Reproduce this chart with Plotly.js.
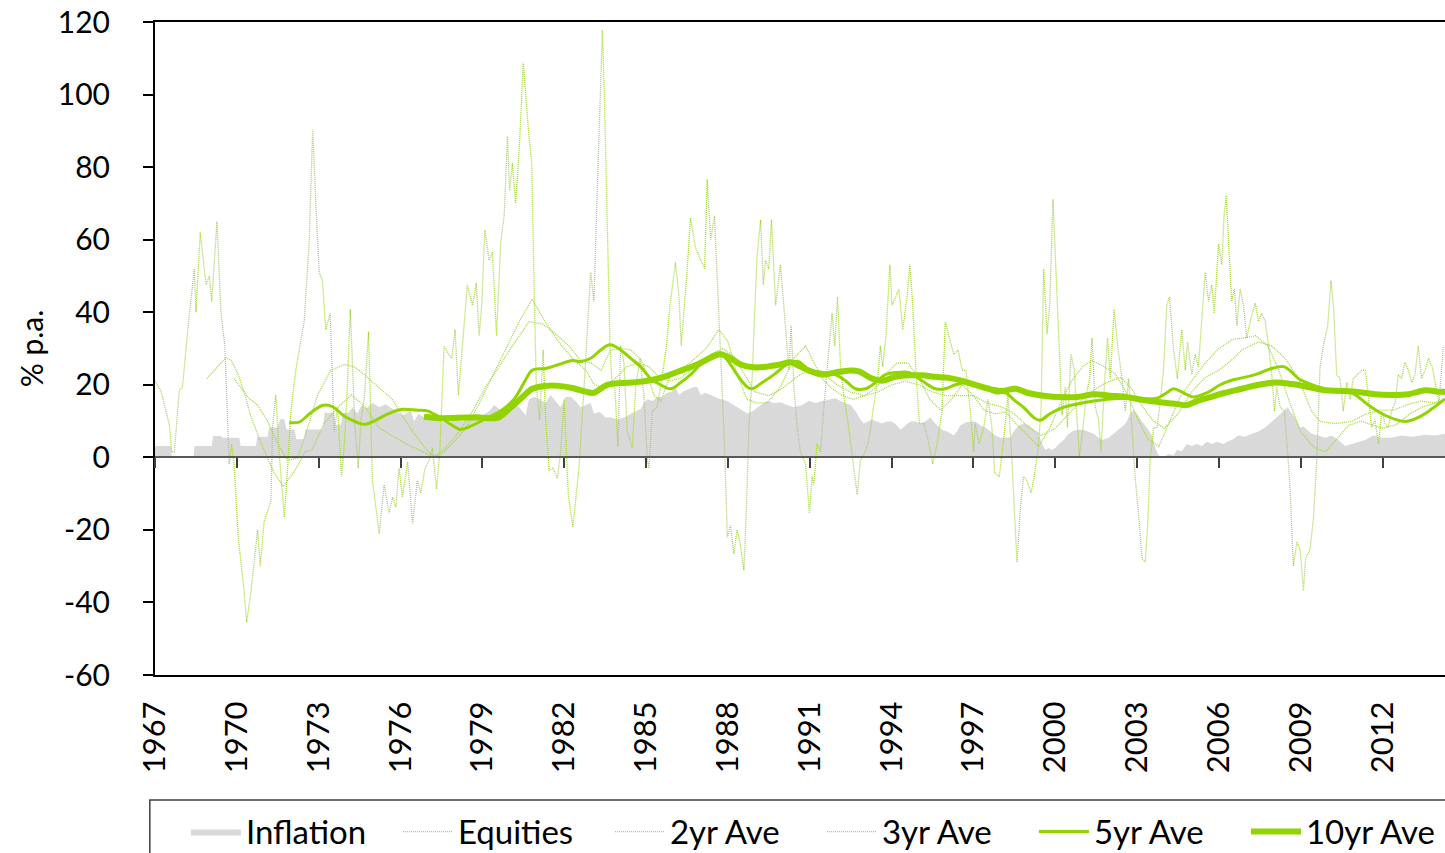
<!DOCTYPE html>
<html>
<head>
<meta charset="utf-8">
<script src="https://cdn.plot.ly/plotly-3.0.1.min.js"></script>
<style>html,body{margin:0;padding:0;background:#fff;}#chart{width:1445px;height:853px;}</style>
</head>
<body>
<div id="chart"></div>
<script>
// ---------- DATA ----------
const tickYears = [1967,1970,1973,1976,1979,1982,1985,1988,1991,1994,1997,2000,2003,2006,2009,2012];
const tickLabels = tickYears.map(String);
const yTickVals = [-60,-40,-20,0,20,40,60,80,100,120];
const yTickLabels = ['-60','-40','-20','0','20','40','60','80','100','120'];

const inflationYears = [1967.00,1967.58,1967.62,1968.41,1968.45,1969.08,1969.13,1969.42,1969.47,1970.09,1970.14,1970.70,1970.75,1971.13,1971.18,1971.50,1971.58,1971.74,1971.82,1972.12,1972.18,1972.47,1972.52,1973.15,1973.22,1973.56,1973.62,1973.82,1973.88,1974.10,1974.24,1974.42,1974.57,1974.75,1974.97,1975.22,1975.45,1975.71,1975.90,1976.07,1976.38,1976.50,1976.65,1976.87,1977.05,1977.29,1977.55,1977.78,1978.00,1978.27,1978.50,1978.76,1979.00,1979.25,1979.43,1979.65,1979.86,1980.10,1980.35,1980.59,1980.71,1980.90,1981.10,1981.32,1981.50,1981.68,1981.87,1982.05,1982.24,1982.42,1982.60,1982.97,1983.09,1983.30,1983.52,1983.75,1983.95,1984.20,1984.44,1984.62,1984.80,1984.92,1985.05,1985.23,1985.41,1985.60,1985.78,1985.93,1986.08,1986.21,1986.39,1986.57,1986.76,1986.88,1987.00,1987.18,1987.37,1987.55,1987.73,1987.98,1988.22,1988.47,1988.71,1988.95,1989.20,1989.44,1989.69,1989.93,1990.17,1990.42,1990.72,1990.97,1991.22,1991.46,1991.70,1991.94,1992.13,1992.31,1992.50,1992.68,1992.86,1992.98,1993.12,1993.29,1993.47,1993.65,1993.83,1994.02,1994.20,1994.33,1994.51,1994.69,1994.88,1995.06,1995.24,1995.42,1995.61,1995.85,1996.04,1996.16,1996.28,1996.40,1996.52,1996.71,1996.89,1997.07,1997.26,1997.44,1997.62,1997.81,1997.99,1998.17,1998.36,1998.48,1998.66,1998.84,1999.03,1999.21,1999.39,1999.52,1999.64,1999.76,1999.88,2000.00,2000.13,2000.31,2000.49,2000.67,2000.86,2001.04,2001.22,2001.41,2001.59,2001.72,2001.96,2002.14,2002.32,2002.51,2002.63,2002.75,2002.87,2003.00,2003.18,2003.36,2003.55,2003.67,2003.79,2003.97,2004.16,2004.34,2004.46,2004.64,2004.83,2005.01,2005.19,2005.38,2005.56,2005.74,2005.93,2006.17,2006.30,2006.47,2006.72,2006.96,2007.21,2007.45,2007.70,2007.94,2008.18,2008.37,2008.53,2008.61,2008.73,2008.86,2008.98,2009.10,2009.22,2009.40,2009.65,2009.89,2010.14,2010.38,2010.63,2010.87,2011.11,2011.36,2011.66,2011.97,2012.33,2012.70,2013.07,2013.56,2013.92,2014.29];
const inflationValues = [3.1,3.1,0,0,3.1,3.1,5.9,5.9,5.4,5.4,3.1,3.1,5.7,5.7,8.2,8.2,10.5,10.5,7.7,7.7,5,5,7.7,7.7,12.3,12.3,9,9,12.3,12.3,13.8,12.1,14.4,13.5,15,13.8,14.6,13.3,12.2,11.6,12.7,9.9,12,11,12,10.4,9.8,9.3,10.8,9.9,11,12.1,11.6,12.7,14.4,13.2,13.8,15,13.8,11.6,16,16.6,16,15,17.2,15.5,13.8,16.6,16.6,15.5,13.8,15,12.1,12.5,11,11,10.4,11,12.1,12.7,13.3,15,16,15.5,16.6,16.6,17.8,18.1,19.4,17.2,18.3,18.9,19.4,19.4,17.2,17.8,17.2,16.6,16,15.5,14.4,13.3,12.1,12.9,14.4,15.5,15,15.2,14.4,13.8,14.4,15.5,15,15.5,16,16.3,15.5,15,14.4,12.7,10.4,9.3,9.9,10.4,9.9,9.3,9.9,9.9,8.8,7.6,8.8,9.9,9.9,9.3,9.9,11,9.3,7.6,7.1,6.5,6,7.1,8.8,9.6,9.9,9.9,8.8,8.2,7.1,6,5.4,5.4,5.5,7.1,8.8,9.3,8.8,7.6,6.5,3.7,2,2.6,2,2.6,3.7,4.8,6.5,7.3,7.6,7.6,7.1,6.5,5.4,4.8,5.4,6.5,7.6,8.8,9.9,12.1,12.9,12.1,9.9,8.2,6,2.6,0.5,0.1,0.9,0.5,2,1.7,3.7,3.1,3.7,3.1,4.3,3.7,4.3,3.7,4.2,4.8,6,5.7,6.5,7.1,8.2,9.9,11.6,12.7,13.8,12.7,11.6,9.9,8.2,8.5,7.6,6.5,6,5.4,6,4.8,3.1,3.7,4.3,4.8,6,5.4,5.4,6,5.7,6.2,6,6.5];

const equityYears = [1967.00,1967.22,1967.53,1967.61,1967.71,1967.89,1968.01,1968.20,1968.44,1968.50,1968.66,1968.87,1968.99,1969.08,1969.27,1969.42,1969.56,1969.72,1969.81,1969.91,1970.05,1970.25,1970.36,1970.52,1970.76,1970.86,1971.00,1971.25,1971.31,1971.43,1971.55,1971.74,1971.86,1971.98,1972.16,1972.35,1972.47,1972.65,1972.78,1972.90,1973.02,1973.14,1973.26,1973.42,1973.51,1973.57,1973.69,1973.84,1973.94,1974.03,1974.16,1974.24,1974.33,1974.45,1974.55,1974.67,1974.83,1974.97,1975.22,1975.40,1975.58,1975.71,1975.83,1975.95,1976.07,1976.26,1976.44,1976.62,1976.74,1976.90,1977.05,1977.17,1977.32,1977.44,1977.60,1977.76,1977.88,1978.00,1978.12,1978.27,1978.45,1978.64,1978.78,1978.88,1978.98,1979.09,1979.25,1979.37,1979.52,1979.67,1979.80,1979.92,1980.00,1980.10,1980.22,1980.35,1980.50,1980.69,1980.81,1980.90,1980.98,1981.10,1981.23,1981.32,1981.45,1981.59,1981.75,1981.87,1982.00,1982.15,1982.32,1982.54,1982.73,1982.97,1983.09,1983.19,1983.28,1983.40,1983.48,1983.58,1983.68,1983.76,1983.85,1983.97,1984.07,1984.19,1984.31,1984.50,1984.62,1984.78,1984.92,1985.05,1985.11,1985.23,1985.41,1985.60,1985.75,1985.88,1986.08,1986.21,1986.29,1986.49,1986.63,1986.82,1987.00,1987.15,1987.24,1987.37,1987.51,1987.61,1987.76,1987.88,1987.98,1988.10,1988.22,1988.34,1988.44,1988.59,1988.68,1988.77,1988.89,1988.98,1989.07,1989.20,1989.30,1989.38,1989.50,1989.60,1989.75,1989.93,1990.08,1990.24,1990.32,1990.42,1990.54,1990.66,1990.85,1990.99,1991.09,1991.15,1991.27,1991.40,1991.52,1991.70,1991.82,1991.92,1992.02,1992.13,1992.25,1992.43,1992.58,1992.74,1992.86,1993.04,1993.17,1993.29,1993.41,1993.51,1993.59,1993.68,1993.80,1993.94,1994.02,1994.14,1994.27,1994.41,1994.57,1994.67,1994.78,1994.90,1995.02,1995.18,1995.34,1995.51,1995.67,1995.85,1995.97,1996.12,1996.28,1996.44,1996.59,1996.73,1996.89,1997.01,1997.07,1997.21,1997.38,1997.54,1997.68,1997.78,1997.95,1998.11,1998.27,1998.39,1998.48,1998.60,1998.72,1998.84,1998.97,1999.11,1999.23,1999.36,1999.48,1999.58,1999.70,1999.80,1999.92,2000.04,2000.16,2000.25,2000.37,2000.45,2000.58,2000.70,2000.80,2000.89,2001.02,2001.14,2001.26,2001.35,2001.47,2001.59,2001.68,2001.80,2001.92,2002.02,2002.16,2002.29,2002.45,2002.57,2002.69,2002.81,2002.93,2003.09,2003.18,2003.30,2003.39,2003.48,2003.61,2003.73,2003.85,2003.97,2004.09,2004.19,2004.34,2004.48,2004.64,2004.77,2004.85,2005.01,2005.13,2005.25,2005.38,2005.50,2005.62,2005.74,2005.83,2005.99,2006.11,2006.19,2006.27,2006.38,2006.47,2006.57,2006.66,2006.78,2006.90,2007.02,2007.15,2007.33,2007.45,2007.57,2007.70,2007.82,2007.94,2008.04,2008.12,2008.25,2008.40,2008.53,2008.61,2008.73,2008.86,2008.98,2009.10,2009.18,2009.34,2009.47,2009.59,2009.71,2009.83,2009.99,2010.11,2010.20,2010.32,2010.44,2010.56,2010.69,2010.81,2010.93,2011.09,2011.24,2011.36,2011.48,2011.60,2011.72,2011.85,2011.97,2012.09,2012.21,2012.33,2012.46,2012.58,2012.70,2012.82,2012.95,2013.07,2013.19,2013.31,2013.43,2013.56,2013.68,2013.82,2013.95,2014.07,2014.23];
const equityValues = [21,18.3,8.8,1.5,1.5,18.3,19.5,35,52,40,62,47.6,50,43,65,39.7,30.7,-1.9,3.7,-3,-22,-35.7,-45.5,-36.8,-20,-30,-17.7,-12,8.2,17.2,1.5,-16.5,-3,12.7,24,33,37.5,58.8,90.3,69,51,48.7,35.2,39.7,20.6,7.1,13.8,-5.3,3.7,16,40.8,24,8.2,-3,10.5,16,34.6,-6.4,-21,-7.5,-15.4,-11,-13.7,-3,-11,-1.3,-18.2,-6.4,-9.8,-3,-0.8,2.6,-8.7,1.5,30.7,28.4,27.3,35.2,17.2,30.7,47.5,41.9,48,33.5,42,62.7,54.3,56.5,33.5,58.8,66.6,88.5,73.4,81.2,70,84.6,108.8,90.2,81.2,46.4,19.4,10.4,29.6,10.4,-3.6,-3,-5.8,1.5,16,-10.3,-19.3,-3,19.4,51,43,67.8,86.9,117.8,98,66.6,30.7,19.4,20,3.1,30.7,26.2,7.1,2.6,19.4,27.3,17.2,-0.8,-3,12.7,13.8,22.8,30.7,41.9,53.7,44.2,30.7,49.8,66,57.6,54.3,52,76.7,60,66.6,51,24,2.6,-22,-18.8,-26.6,-20,-23.3,-31.1,-14.3,8.2,21.7,39.7,55.4,65.5,47.5,54.3,52,65.5,41.9,53.1,38.5,24,36.3,19.4,8.2,1.5,-1.9,-15.4,-5.3,-7.5,3.7,1.5,13.8,28.4,39.7,30.7,44.2,25,17.2,8.2,-0.8,-10.3,-0.8,1.5,4.8,11.6,17.2,22.8,30.7,25,34,53.1,41.9,44.2,46.4,35.2,44.2,53.1,41.9,22.8,9.3,9.3,4.8,-1.9,3.7,12.7,37.4,32.9,28.4,29.6,24,24,12.7,1.5,9.3,3.7,8.2,16,8.2,-4.2,-5.3,4.8,17.2,2.6,-12,-28.9,-14.3,-5.3,-6.4,-9.8,-5.3,1.5,12.7,52,34,41.9,71.1,48.7,24,11.6,19.4,8.2,28.4,24,10.4,0.3,8.2,17.2,21.7,32.9,13.8,10.4,1.5,19.4,32.9,21.7,40.8,30.7,21.7,12.7,21.7,8.2,-5.3,-18.8,-27.8,-28.9,-18.8,-0.8,8.2,8.2,15,24,41.9,44.2,29.6,21.7,35.2,24,31.8,22.8,28.4,25,39.7,51,43,47.5,39.7,58.8,53.1,66.6,72.2,54.3,43,46.4,36.3,46.4,41.9,32.9,37.5,42.5,37.5,39.7,37.5,30.7,22.8,12.7,19.4,13.8,12.7,0.3,-8.7,-30,-23.3,-25.5,-36.8,-27.8,-25.5,-16.5,-0.8,25,30.7,36.3,48.7,41.9,22.8,21.7,12.7,20.6,16,21.7,22.8,24,24,17.2,8.2,10.4,3.7,12.7,9.3,8.2,12.7,15,22.8,21.7,26.2,24,20.6,22.8,30.7,21.7,24,27.3,25,19.4,15,30.7];

const ave2Years = [1968.90,1969.30,1969.60,1969.80,1970.05,1970.30,1970.50,1970.90,1971.35,1971.70,1972.10,1972.50,1972.75,1973.20,1973.70,1974.20,1974.70,1975.20,1975.70,1976.20,1976.70,1977.20,1977.66,1978.15,1978.64,1979.12,1979.61,1980.10,1980.71,1981.20,1981.69,1982.18,1982.60,1983.00,1983.35,1983.70,1984.10,1984.45,1984.80,1985.05,1985.30,1985.55,1985.90,1986.30,1986.63,1987.20,1987.67,1988.00,1988.34,1988.70,1989.05,1989.44,1989.93,1990.42,1990.85,1991.10,1991.46,1991.82,1992.20,1992.60,1993.00,1993.40,1993.80,1994.20,1994.60,1995.00,1995.40,1995.80,1996.20,1996.60,1997.00,1997.40,1997.80,1998.20,1998.60,1999.00,1999.40,1999.80,2000.20,2000.60,2001.00,2001.35,2001.80,2002.20,2002.60,2003.00,2003.40,2003.80,2004.20,2004.60,2005.00,2005.50,2006.00,2006.50,2007.00,2007.35,2007.80,2008.20,2008.60,2009.00,2009.50,2009.90,2010.30,2010.75,2011.20,2011.60,2012.00,2012.50,2013.00,2013.50,2014.00,2014.29];
const ave2Values = [21.7,25,27.5,26.7,22.8,17.2,11.6,3.7,-4,-8,-4,1.5,2,9.3,13.8,17.2,14,8.2,6,3.7,2,0,2.6,7.1,12.7,19.4,25,30.7,37.4,36.8,34,30.7,26.7,26,24,29.6,30,29.6,27,22.8,17,15.5,22.8,24,26.2,30,35.2,32,22.8,16,15,15,19.4,27.3,30.7,27,21.7,19,17,16,17,19,23,26,26,22,16,13,16,20,17,13,12,12.5,9,6,3,8,15,21,25,26.7,25,23,18,11,5,3,10,17,21,26,30,32.5,33,33.5,30.7,24,15,7,2.6,1.5,4.8,8.8,10,9,8,9,12,14,15,16];

const ave3Years = [1969.90,1970.40,1970.76,1971.13,1971.50,1971.86,1972.23,1972.60,1972.96,1973.45,1973.94,1974.30,1974.67,1975.20,1975.70,1976.10,1976.45,1976.90,1977.20,1977.50,1977.90,1978.40,1978.90,1979.40,1979.90,1980.35,1980.83,1981.30,1981.80,1982.30,1982.80,1983.10,1983.50,1983.90,1984.30,1984.70,1985.10,1985.50,1985.90,1986.30,1986.80,1987.30,1987.80,1988.20,1988.60,1989.00,1989.50,1990.00,1990.50,1991.00,1991.50,1992.00,1992.50,1993.00,1993.50,1994.00,1994.50,1995.00,1995.50,1996.00,1996.50,1997.00,1997.50,1998.00,1998.50,1999.00,1999.50,2000.00,2000.50,2001.00,2001.50,2002.00,2002.40,2002.80,2003.20,2003.60,2004.00,2004.50,2005.00,2005.50,2006.00,2006.50,2006.84,2007.45,2007.94,2008.43,2008.92,2009.40,2009.71,2010.26,2010.87,2011.40,2011.90,2012.40,2012.90,2013.40,2013.90,2014.29];
const ave3Values = [21.7,16.6,14.4,9.9,3.7,-0.8,-0.2,8.2,17.2,24,25.6,25,22.8,19.4,16,11,7.1,2.6,0.3,0.9,3.7,8.2,15,22.8,30.7,37.4,43.6,37.4,31.8,27.3,24,20,19,22,25,26,25,22,21,22,25,28,30,28,23,18,17,19,22,24.5,23,20,18,17,18,20,21,20,18,17,17,17,15,14,12,8.5,6,8,12,16,19,21,22,19,14,10,8,12,18,22,24,27,29.6,31.8,30.7,27.3,21.7,12.7,9.9,9.3,9.9,12,13,13,14.5,15.5,15,16];

const ave5Years = [1971.92,1972.28,1972.71,1973.14,1973.50,1973.93,1974.42,1974.67,1975.03,1975.52,1976.01,1976.62,1976.99,1977.23,1977.48,1977.84,1978.21,1978.57,1979.19,1979.67,1980.16,1980.53,1980.83,1981.32,1981.81,1982.30,1982.60,1982.97,1983.34,1983.68,1984.07,1984.44,1984.80,1985.17,1985.53,1985.90,1986.27,1986.63,1987.00,1987.49,1987.73,1988.04,1988.34,1988.71,1988.89,1989.26,1989.69,1990.17,1990.55,1990.97,1991.46,1991.95,1992.31,1992.68,1993.04,1993.41,1993.78,1994.27,1994.63,1995.12,1995.61,1995.97,1996.34,1996.83,1997.32,1997.81,1998.17,1998.54,1998.84,1999.21,1999.45,1999.82,2000.31,2000.80,2001.41,2002.02,2002.63,2003.24,2003.73,2004.09,2004.34,2004.70,2005.07,2005.56,2006.05,2006.41,2006.72,2007.33,2007.94,2008.37,2008.61,2008.92,2009.22,2009.65,2010.26,2010.87,2011.48,2012.09,2012.82,2013.31,2013.80,2014.29];
const ave5Values = [9.6,9.7,12.3,14.3,14,11.4,9.6,9.1,10,11.9,13.2,13,12.8,11.9,10.9,9.1,7.7,8.6,10.9,12.8,16,20.6,24,24.5,25.6,26.7,26.4,27.3,29.6,31,29.6,27.3,25,21.7,20,18.9,20.6,22.8,25.6,28.4,28.7,26.2,22.8,19.4,18.9,20.6,22.8,25.6,26.5,24.2,23.4,22.8,21.1,18.9,18.9,20.6,22.8,23.4,23.4,21.1,18.9,18.9,20,20.6,19.4,17.8,17.8,15.5,13.8,11,10.2,12.1,13.8,14.7,15.5,16.1,16.3,16.1,16.3,17.8,18.9,17.8,16.6,17.8,20,21.1,21.7,22.8,24.5,25,23.9,21.7,20.6,19.4,18.3,17.8,14.4,11.6,9.9,11,13.3,16.1];

const ave10Years = [1976.86,1977.48,1978.39,1978.90,1979.55,1979.98,1980.47,1980.83,1981.32,1981.81,1982.30,1982.79,1983.09,1983.58,1984.44,1985.05,1985.66,1986.27,1986.88,1987.49,1987.73,1988.10,1988.47,1988.95,1989.44,1989.93,1990.30,1990.66,1990.97,1991.46,1991.95,1992.43,1992.80,1993.29,1993.65,1994.14,1994.63,1995.12,1995.61,1996.10,1996.59,1997.07,1997.56,1998.05,1998.54,1998.97,1999.58,2000.19,2000.80,2001.41,2002.02,2002.63,2003.24,2003.85,2004.46,2004.83,2005.19,2005.68,2006.23,2006.84,2007.45,2008.06,2008.67,2009.28,2009.89,2010.50,2011.11,2011.72,2012.33,2012.95,2013.56,2014.04,2014.29];
const ave10Values = [11.2,10.8,11,11,10.9,13.3,16.6,18.9,19.7,19.7,19.1,18.1,17.8,20,20.6,21.1,22.2,23.9,25.6,27.9,28.4,27.3,25.6,24.8,25,25.6,26.2,25,23.9,22.8,23.4,23.9,23.7,21.7,21.1,22.2,22.6,22.6,22.2,21.9,21.1,20,18.9,18.3,18.9,17.8,17,16.6,16.6,17.4,17,16.6,15.8,15.2,14.7,14.4,15.5,16.6,17.8,18.9,20,20.6,20.2,19.4,18.5,18.3,18,17.4,17.2,17.4,18.5,18.1,18.1];

// ---------- STYLE ----------
const FONT = 'Lato, "Open Sans", sans-serif';
const GREEN = '#92D400';
const DOT_GREEN = '#A4D640';

const traces = [
  {name:'Inflation', x:inflationYears, y:inflationValues, type:'scatter', mode:'lines',
   fill:'tozeroy', fillcolor:'#D9D9D9', line:{width:0, color:'#D9D9D9'}},
  {name:'Equities', x:equityYears, y:equityValues, type:'scatter', mode:'lines',
   line:{width:1.3, color:DOT_GREEN, dash:'1px,1px'}},
  {name:'2yr Ave', x:ave2Years, y:ave2Values, type:'scatter', mode:'lines',
   line:{width:1.3, color:DOT_GREEN, dash:'1px,1px'}},
  {name:'3yr Ave', x:ave3Years, y:ave3Values, type:'scatter', mode:'lines',
   line:{width:1.3, color:DOT_GREEN, dash:'1px,1px'}},
  {name:'5yr Ave', x:ave5Years, y:ave5Values, type:'scatter', mode:'lines',
   line:{width:3, color:GREEN, shape:'spline'}},
  {name:'10yr Ave', x:ave10Years, y:ave10Values, type:'scatter', mode:'lines',
   line:{width:6, color:GREEN, shape:'spline'}},
  // carrier for the axis drawn through zero (no visible marks)
  {x:[1967], y:[0], xaxis:'x2', type:'scatter', mode:'none', showlegend:false, hoverinfo:'skip'}
];

const xRange = [1967, 2014.29];
const yRange = [-60, 120];
const zeroPos = (0 - yRange[0]) / (yRange[1] - yRange[0]);

const layout = {
  width:1445, height:853,
  margin:{l:155, r:0, t:22, b:178, autoexpand:false},
  paper_bgcolor:'#fff', plot_bgcolor:'#fff',
  font:{family:FONT, size:30, color:'#000'},
  showlegend:true,
  legend:{orientation:'h', x:0.024, y:-0.197, xanchor:'left', yanchor:'top',
          font:{family:FONT, size:33, color:'#000'}, bgcolor:'rgba(0,0,0,0)',
          entrywidth:147, itemwidth:50, traceorder:'normal'},
  xaxis:{range:xRange, tickvals:tickYears, ticktext:tickLabels, tickangle:-90,
         showgrid:false, zeroline:false, showline:true, linecolor:'#000', linewidth:2,
         mirror:true, ticks:'', ticklabelstandoff:12,
         tickfont:{family:FONT, size:31, color:'#000'}},
  xaxis2:{range:xRange, overlaying:'x', anchor:'free', position:zeroPos,
          tickvals:tickYears, showticklabels:false, showgrid:false, zeroline:false,
          showline:true, linecolor:'#595959', linewidth:2,
          ticks:'outside', ticklen:10, tickwidth:2, tickcolor:'#404040'},
  yaxis:{range:yRange, tickvals:yTickVals, ticktext:yTickLabels, showgrid:false, zeroline:false,
         showline:true, linecolor:'#000', linewidth:2, ticks:'outside', ticklen:10,
         tickwidth:2, tickcolor:'#000', ticklabelstandoff:27,
         tickfont:{family:FONT, size:30, color:'#000'},
         title:{text:'% p.a.', font:{family:FONT, size:30, color:'#000'}, standoff:5}},
  shapes:[
    {type:'rect', xref:'paper', yref:'paper', x0:-0.004, x1:1.05, y0:-0.1914, y1:-0.40,
     line:{color:'#404040', width:1.5}, fillcolor:'rgba(0,0,0,0)', layer:'above'}
  ]
};

Plotly.newPlot('chart', traces, layout, {staticPlot:true, displayModeBar:false});
</script>
</body>
</html>
